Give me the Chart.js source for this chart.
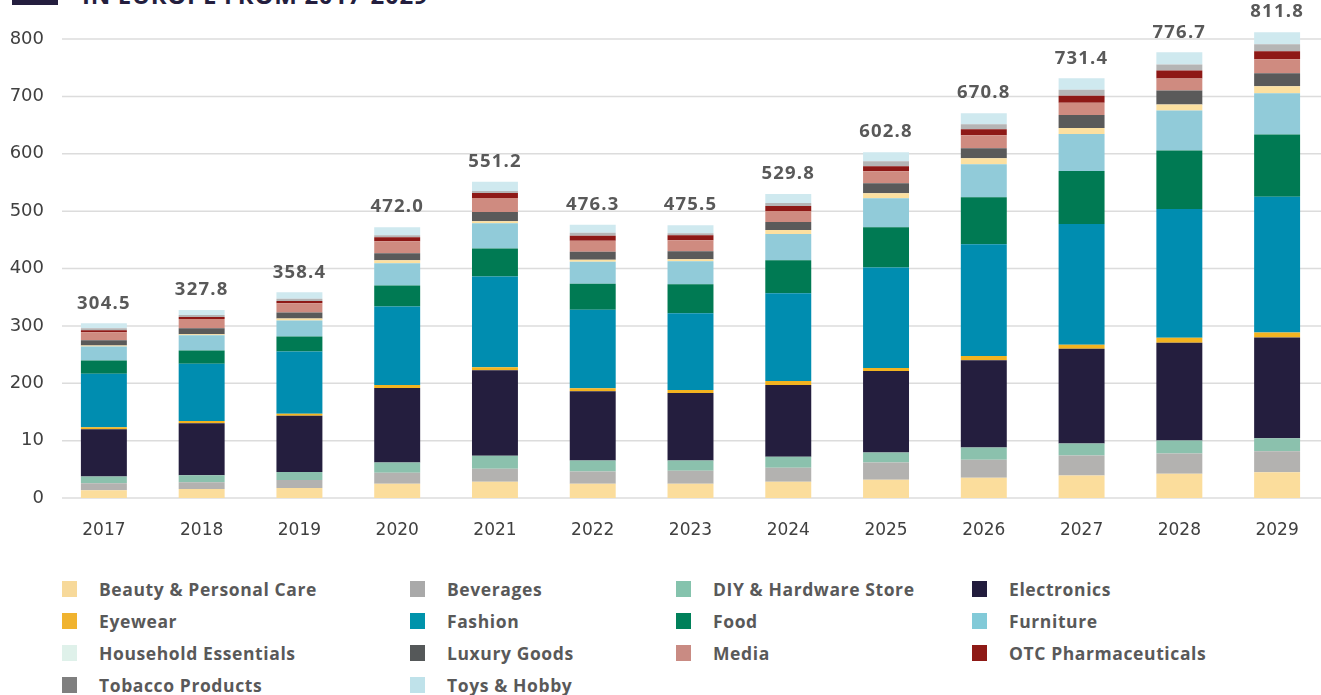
<!DOCTYPE html>
<html>
<head>
<meta charset="utf-8">
<script src="https://cdn.jsdelivr.net/npm/chart.js@4.4.0/dist/chart.umd.min.js"></script>
<style>
  body { margin: 0; width: 1321px; height: 695px; overflow: hidden; background: #fff; position: relative; font-family: "Open Sans", sans-serif; }
  #mark { position: absolute; left: 12px; top: -40px; width: 46px; height: 45px; background: #241e3e; }
  #title { position: absolute; left: 82px; top: -17px; font: 700 24px/24px "Open Sans", sans-serif; color: #241e3e; letter-spacing: 0.7px; white-space: nowrap; }
  #chart { position: absolute; left: 0; top: 0; }
  #legend { position: absolute; left: 62px; top: 573px; display: grid; grid-template-columns: 348px 266px 296px 320px; }
  .item { height: 32px; display: flex; align-items: center; font: 700 17.5px "Open Sans", sans-serif; color: #595959; letter-spacing: 0.6px; white-space: nowrap; }
  .sw { width: 15px; height: 16px; margin-right: 22px; flex: none; }
</style>
</head>
<body>
<div id="mark"></div>
<div id="title">IN EUROPE FROM 2017-2029</div>
<canvas id="chart" width="1326" height="548"></canvas>
<div id="legend"></div>
<script>
const years = ['2017', '2018', '2019', '2020', '2021', '2022', '2023', '2024', '2025', '2026', '2027', '2028', '2029'];

const categories = [
  'Beauty & Personal Care', 'Beverages', 'DIY & Hardware Store', 'Electronics',
  'Eyewear', 'Fashion', 'Food', 'Furniture',
  'Household Essentials', 'Luxury Goods', 'Media', 'OTC Pharmaceuticals',
  'Tobacco Products', 'Toys & Hobby'
];

// segment values per year, bottom of the stack first
const beauty      = [13.5, 15.5, 17.5, 25.0, 28.4, 25.0, 25.0, 28.4, 32.0, 35.4, 39.0, 42.4, 44.8];
const beverages   = [12.0, 12.0, 14.0, 19.2, 22.7, 21.0, 22.7, 24.4, 29.7, 31.4, 35.0, 35.0, 36.6];
const diy         = [12.0, 12.0, 14.0, 17.5, 22.7, 19.2, 17.5, 19.2, 17.5, 21.0, 21.0, 22.7, 22.7];
const electronics = [82.5, 91.0, 98.0, 130.0, 149.0, 121.0, 118.0, 125.0, 142.0, 152.5, 165.0, 170.5, 175.5];
const eyewear     = [3.5, 3.5, 3.5, 5.2, 5.2, 5.2, 5.2, 7.0, 5.2, 7.0, 7.0, 8.7, 8.7];
const fashion     = [93.0, 100.0, 108.5, 137.0, 158.0, 136.5, 133.6, 152.8, 175.5, 194.8, 210.4, 224.5, 236.6];
const food        = [23.0, 23.0, 26.0, 36.6, 49.0, 45.4, 50.6, 57.6, 70.0, 82.0, 92.5, 101.7, 108.8];
const furniture   = [24.5, 26.5, 28.0, 38.6, 44.0, 38.4, 40.0, 45.6, 50.6, 57.6, 64.6, 69.8, 71.6];
const household   = [2.0, 2.0, 3.5, 5.2, 3.5, 3.5, 3.5, 7.0, 8.7, 10.5, 10.5, 10.5, 12.2];
const luxury      = [9.0, 10.5, 10.5, 12.2, 16.0, 14.0, 14.0, 14.0, 17.5, 17.5, 22.7, 24.4, 22.7];
const media       = [14.0, 15.8, 15.9, 21.0, 24.5, 19.2, 19.2, 19.2, 21.0, 22.7, 21.0, 21.0, 24.4];
const otc         = [3.5, 3.5, 4.0, 7.0, 8.7, 8.7, 8.7, 8.7, 8.7, 10.5, 12.2, 14.0, 14.0];
const tobacco     = [3.5, 3.5, 4.0, 3.5, 3.5, 5.2, 3.5, 5.2, 8.7, 8.7, 10.5, 10.5, 12.2];
const toys        = [8.5, 9.0, 11.0, 14.0, 16.0, 14.0, 14.0, 15.7, 15.7, 19.2, 20.0, 21.0, 21.0];

const series = [beauty, beverages, diy, electronics, eyewear, fashion, food, furniture,
                household, luxury, media, otc, tobacco, toys];

const yTicks = [0, 100, 200, 300, 400, 500, 600, 700, 800];
const yTickLabels = ['0', '10', '200', '300', '400', '500', '600', '700', '800'];

const barColors = ['#fbdd9c', '#b3b2b0', '#8bc1ad', '#241e3e', '#f2b320', '#008db0', '#007a53', '#91cbd9',
                   '#fce0a0', '#5a5a5a', '#cf8b80', '#8e1916', '#b5b5b5', '#cfe9ef'];
const swatchColors = ['#f7d99a', '#a9a9a9', '#85c3ad', '#221c3d', '#f0b32f', '#0093ab', '#00805a', '#82cad8',
                      '#dff1ea', '#555859', '#c98b83', '#8e1a16', '#7f7f7f', '#bfe2ea'];

// horizontal rules start a little right of the plot edge
const gridRules = {
  id: 'gridRules',
  beforeDatasetsDraw(chart) {
    const { ctx, chartArea, scales: { y } } = chart;
    ctx.save();
    ctx.strokeStyle = '#dcdcdc';
    ctx.lineWidth = 1.5;
    y.ticks.forEach(t => {
      const py = y.getPixelForValue(t.value);
      ctx.beginPath();
      ctx.moveTo(chartArea.left + 7, py);
      ctx.lineTo(chart.width, py);
      ctx.stroke();
    });
    ctx.restore();
  }
};

// totals above each stack
const stackTotals = {
  id: 'stackTotals',
  afterDatasetsDraw(chart) {
    const { ctx, scales: { y } } = chart;
    const meta = chart.getDatasetMeta(0);
    ctx.save();
    ctx.font = '700 18.5px "Open Sans", sans-serif';
    ctx.letterSpacing = '1.2px';
    ctx.fillStyle = '#595959';
    ctx.textAlign = 'center';
    ctx.textBaseline = 'middle';
    years.forEach((_, i) => {
      const total = series.reduce((s, arr) => s + arr[i], 0);
      ctx.fillText(total.toFixed(1), meta.data[i].x, y.getPixelForValue(total) - 20);
    });
    ctx.restore();
  }
};

const datasets = series.map((values, i) => ({
  label: categories[i],
  data: values,
  backgroundColor: barColors[i],
  borderWidth: 0,
  clip: false,
  barPercentage: 0.47,
  categoryPercentage: 1
}));

const chart = new Chart(document.getElementById('chart'), {
  type: 'bar',
  data: { labels: years, datasets },
  options: {
    responsive: false,
    animation: false,
    layout: { padding: { top: 39, left: 0, right: 0, bottom: 0 } },
    plugins: { legend: { display: false }, tooltip: { enabled: false } },
    scales: {
      x: {
        stacked: true,
        grid: { display: false, drawTicks: false },
        border: { display: false },
        ticks: { color: '#404040', font: { family: 'DejaVu Sans', size: 17 }, padding: 22 },
        afterFit: s => { s.height = 50; }
      },
      y: {
        stacked: true,
        min: 0,
        max: 800,
        grid: { display: false, drawTicks: false },
        border: { display: false },
        ticks: {
          stepSize: 100,
          padding: 11,
          color: '#404040',
          font: { family: 'DejaVu Sans', size: 18 },
          callback: v => yTickLabels[yTicks.indexOf(v)]
        },
        afterFit: s => { s.width = 55; }
      }
    }
  },
  plugins: [gridRules, stackTotals]
});

// legend laid out in four fixed columns
const legend = document.getElementById('legend');
chart.data.datasets.forEach((ds, i) => {
  const item = document.createElement('div');
  item.className = 'item';
  const sw = document.createElement('span');
  sw.className = 'sw';
  sw.style.background = swatchColors[i];
  item.appendChild(sw);
  item.appendChild(document.createTextNode(ds.label));
  legend.appendChild(item);
});
</script>
</body>
</html>
